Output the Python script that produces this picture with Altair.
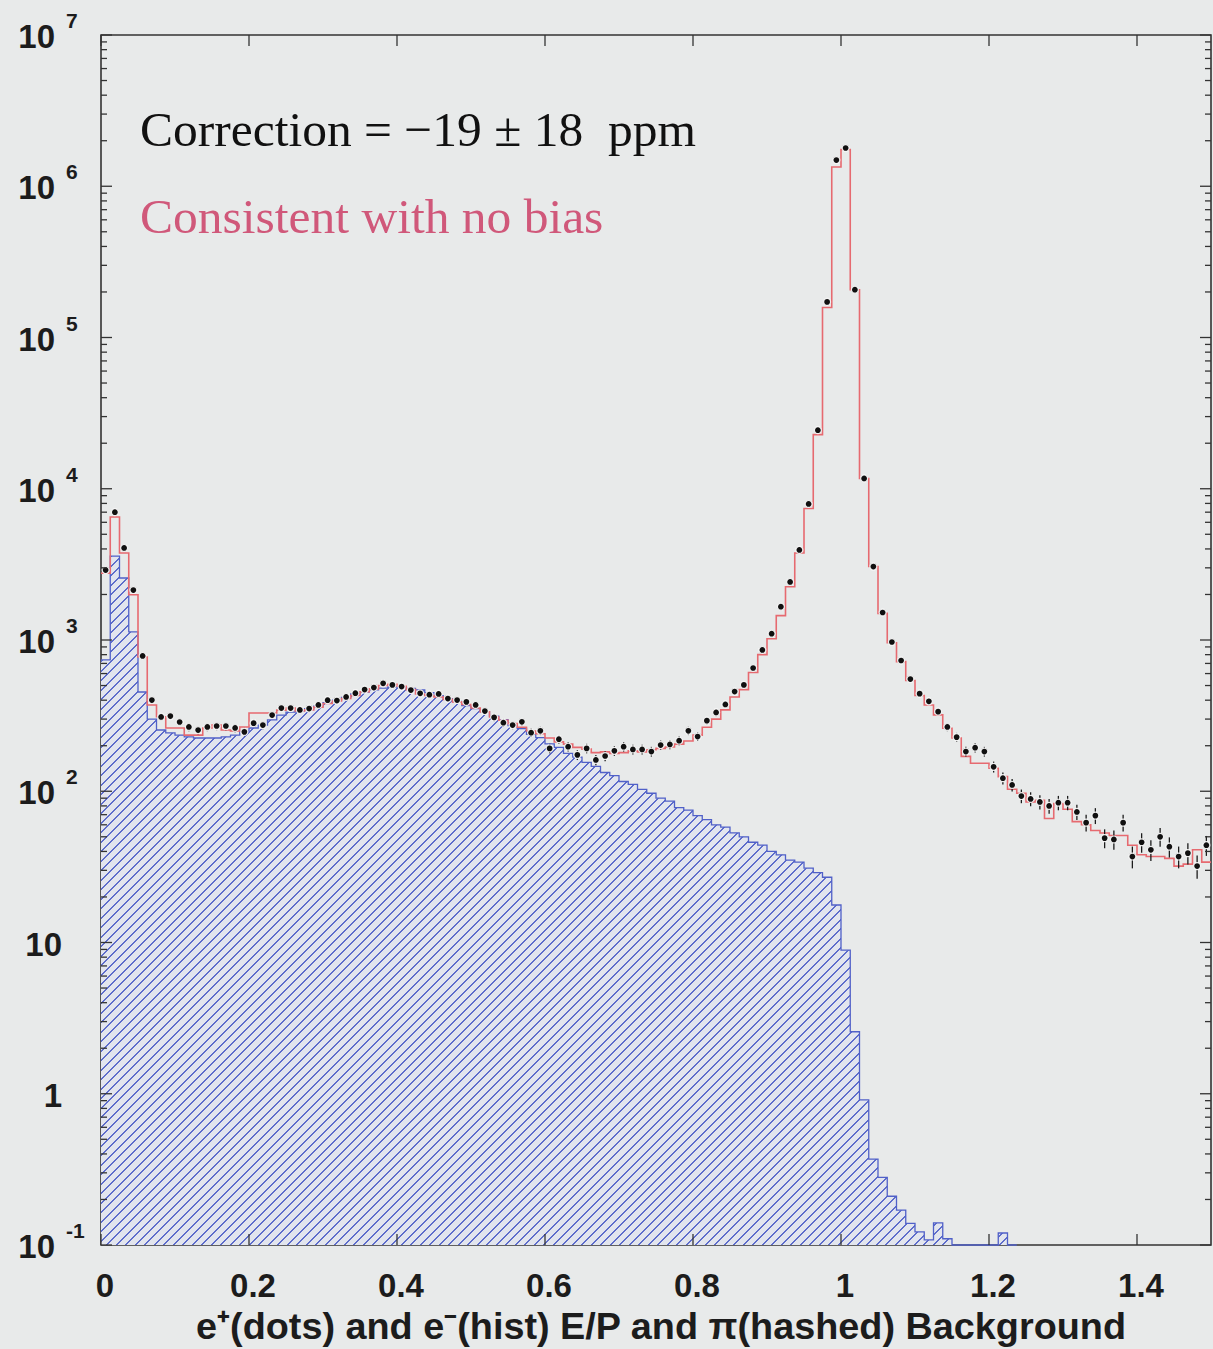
import math
import altair as alt
import pandas as pd

# ---------------- data ----------------
BIN_W = 0.0125  # E/P bin width, 120 bins from 0 to 1.5

# e- histogram (red step line), bins 0..119
e_minus = [2770, 6500, 3760, 1990, 772, 372, 311, 262, 262, 235,
           235, 262, 274, 254, 250, 266, 329, 329, 329, 344,
           355, 340, 345, 360, 380, 395, 410, 430, 455, 475,
           500, 510, 495, 470, 440, 430, 420, 405, 390, 375,
           355, 335, 310, 295, 280, 265, 250, 240, 225, 212,
           205, 195, 190, 180, 182, 178, 180, 185, 182, 188,
           192, 196, 205, 215, 235, 265, 300, 345, 420, 470,
           610, 800, 1020, 1450, 2250, 3760, 7400, 22800, 158000, 1340000,
           1750000, 207000, 11700, 3060, 1500, 960, 720, 540, 430, 372,
           320, 261, 225, 170, 153, 153, 142, 125, 103, 97,
           85, 87, 66, 83, 76, 63, 60, 55, 53, 51,
           51, 44, 38, 37, 37, 36, 32, 33, 41, 34]

# e+ (black dots), bins 0..119
e_plus = [2900, 7000, 4060, 2140, 784, 401, 310, 314, 287, 266,
          254, 266, 270, 270, 262, 247, 282, 274, 319, 355,
          355, 345, 352, 372, 400, 398, 420, 445, 470, 485,
          517, 505, 492, 467, 444, 435, 440, 410, 401, 390,
          372, 339, 308, 284, 274, 288, 244, 251, 192, 221,
          197, 174, 192, 161, 171, 185, 197, 189, 189, 183,
          202, 204, 216, 251, 230, 293, 332, 375, 456, 505,
          653, 859, 1100, 1660, 2420, 3940, 7930, 24400, 172000, 1490000,
          1790000, 207000, 11700, 3060, 1520, 970, 732, 552, 442, 393,
          336, 266, 228, 183, 194, 183, 145, 122, 110, 93,
          89, 85, 80, 84, 84, 73, 62, 69, 49, 48,
          62, 37, 46, 41, 50, 43, 37, 39, 32, 44]

# pion background (blue hashed), bins 0..98
pion = [738, 3590, 2570, 1130, 453, 300, 254, 243, 235, 229,
        225, 225, 225, 229, 235, 250, 262, 274, 296, 319,
        334, 340, 352, 365, 385, 400, 418, 440, 452, 468,
        480, 490, 488, 478, 468, 448, 428, 410, 392, 368,
        352, 336, 314, 298, 272, 260, 238, 226, 206, 195,
        178, 168, 155, 146, 133, 127, 116, 111, 103, 97,
        90, 86, 78, 75, 69, 65, 60, 58, 53, 50,
        46, 44, 40, 38, 35, 34, 31, 29, 27, 17.7,
        8.9, 2.57, 0.91, 0.37, 0.28, 0.21, 0.17, 0.139, 0.122, 0.108,
        0.14, 0.11, 0, 0, 0, 0, 0, 0.12, 0]

x_tick_values = [0, 0.2, 0.4, 0.6, 0.8, 1.0, 1.2, 1.4]
x_tick_labels = ["0", "0.2", "0.4", "0.6", "0.8", "1", "1.2", "1.4"]
y_major = [0.1, 1, 10, 100, 1e3, 1e4, 1e5, 1e6, 1e7]
y_minor = [m * 10.0 ** k for k in range(-1, 7) for m in range(2, 10)]
y_pow_values = [1e7, 1e6, 1e5, 1e4, 1e3, 1e2, 0.1]
y_pow_exps = ["7", "6", "5", "4", "3", "2", "-1"]
y_plain_values = [10, 1]
y_plain_labels = ["10", "1"]

title_text = "e\u207a(dots) and e\u207b(hist) E/P and \u03c0(hashed) Background"
note1 = "Correction = \u221219 \u00b1 18\u00a0 ppm"
note2 = "Consistent with no bias"

# ---------------- style ----------------
PLOT_W, PLOT_H = 1110, 1210
X_MAX = 1.5
Y_MIN, Y_MAX = 0.1, 1e7
BG = "#e8eaea"
INK = "#1c1c1c"
FRAME = "#333333"
RED = "#e66a70"
BLUE = "#5060c8"
HATCH_LINE = "#5e6dcb"
HATCH_GAP = "#e2e5ee"
SANS = "Liberation Sans"
SERIF = "Liberation Serif"

# hatch pattern as a striped linear gradient (45 degree lines)
area_w = len(pion) * BIN_W / X_MAX * PLOT_W
area_h = PLOT_H * (math.log10(max(pion)) - math.log10(Y_MIN)) / (math.log10(Y_MAX) - math.log10(Y_MIN))
r = area_w / area_h
gb = (1 + r) / (1 + r * r)
ga = r * gb
HATCH_SPACING = 9.5
LINE_FRAC = 0.25
period = HATCH_SPACING * ga / (area_w * (ga * ga + gb * gb))
stops = []
k = 0
while k * period < 1:
    t0 = k * period
    t1 = min(1.0, t0 + LINE_FRAC * period)
    t2 = min(1.0, t0 + period)
    stops += [alt.GradientStop(offset=t0, color=HATCH_LINE),
              alt.GradientStop(offset=t1, color=HATCH_LINE),
              alt.GradientStop(offset=t1, color=HATCH_GAP),
              alt.GradientStop(offset=t2, color=HATCH_GAP)]
    k += 1
hatch_fill = alt.LinearGradient(gradient="linear", stops=stops, x1=0, y1=0, x2=ga, y2=gb)

# ---------------- tables ----------------
red_df = pd.DataFrame({"x": [i * BIN_W for i in range(len(e_minus) + 1)],
                       "v": e_minus + [e_minus[-1]]})
pi_df = pd.DataFrame({"x": [i * BIN_W for i in range(len(pion) + 1)],
                      "v": pion + [pion[-1]]})
dot_df = pd.DataFrame({"x": [(i + 0.5) * BIN_W for i in range(len(e_plus))],
                       "v": e_plus})
ymaj_df = pd.DataFrame({"v": y_major})
ymin_df = pd.DataFrame({"v": y_minor})
xt_df = pd.DataFrame({"v": x_tick_values, "t": x_tick_labels})
ypow_df = pd.DataFrame({"v": y_pow_values, "b": ["10"] * len(y_pow_values), "e": y_pow_exps})
yplain_df = pd.DataFrame({"v": y_plain_values, "t": y_plain_labels})
one = alt.Data(values=[{"a": 1}])

xs = alt.Scale(domain=[0, X_MAX], nice=False, zero=False)
ys = alt.Scale(type="log", domain=[Y_MIN, Y_MAX], nice=False)


def X(f):
    return alt.X(f, type="quantitative", scale=xs, axis=None)


def Y(f):
    return alt.Y(f, type="quantitative", scale=ys, axis=None)


hatch = alt.Chart(pi_df).transform_calculate(vp="max(datum.v, 0.1)").mark_area(
    interpolate="step-after", fill=hatch_fill, strokeWidth=0
).encode(x=X("x"), y=Y("vp"), y2=alt.datum(Y_MIN))

pi_line = alt.Chart(pi_df).transform_calculate(vp="max(datum.v, 0.1)").mark_line(
    interpolate="step-after", color=BLUE, strokeWidth=1.3
).encode(x=X("x"), y=Y("vp"))

red_line = alt.Chart(red_df).mark_line(
    interpolate="step-after", color=RED, strokeWidth=1.6
).encode(x=X("x"), y=Y("v"))

err = alt.Chart(dot_df).transform_calculate(
    lo="datum.v - sqrt(datum.v)", hi="datum.v + sqrt(datum.v)"
).mark_rule(color=INK, strokeWidth=1.3).encode(x=X("x"), y=Y("lo"), y2=alt.Y2("hi:Q"))

dots = alt.Chart(dot_df).mark_point(
    shape="circle", filled=True, fill="#101010", stroke="#ffffff", strokeWidth=1.2,
    strokeOpacity=0.9, size=48, opacity=1
).encode(x=X("x"), y=Y("v"))

tick_style = dict(color=FRAME, strokeWidth=1.3)
ytl = alt.Chart(ymaj_df).mark_rule(**tick_style).encode(y=Y("v"), x=alt.value(0), x2=alt.value(11))
ytr = alt.Chart(ymaj_df).mark_rule(**tick_style).encode(y=Y("v"), x=alt.value(PLOT_W - 11), x2=alt.value(PLOT_W))
ymtl = alt.Chart(ymin_df).mark_rule(**tick_style).encode(y=Y("v"), x=alt.value(0), x2=alt.value(6))
ymtr = alt.Chart(ymin_df).mark_rule(**tick_style).encode(y=Y("v"), x=alt.value(PLOT_W - 6), x2=alt.value(PLOT_W))
xtb = alt.Chart(xt_df).mark_rule(**tick_style).encode(x=X("v"), y=alt.value(PLOT_H - 11), y2=alt.value(PLOT_H))
xtt = alt.Chart(xt_df).mark_rule(**tick_style).encode(x=X("v"), y=alt.value(0), y2=alt.value(11))

xlab = alt.Chart(xt_df).mark_text(
    font=SANS, fontSize=33, fontWeight="bold", color=INK, baseline="middle", align="center", dx=4
).encode(x=X("v"), y=alt.value(PLOT_H + 42), text="t:N")

ybase = alt.Chart(ypow_df).mark_text(
    font=SANS, fontSize=33, fontWeight="bold", color=INK, baseline="middle", align="right", dy=3
).encode(y=Y("v"), x=alt.value(-46), text="b:N")
yexp = alt.Chart(ypow_df).mark_text(
    font=SANS, fontSize=21, fontWeight="bold", color=INK, baseline="middle", align="left", dy=-13
).encode(y=Y("v"), x=alt.value(-35), text="e:N")
yplain = alt.Chart(yplain_df).mark_text(
    font=SANS, fontSize=33, fontWeight="bold", color=INK, baseline="middle", align="right", dy=3
).encode(y=Y("v"), x=alt.value(-39), text="t:N")

title = alt.Chart(one).mark_text(
    font=SANS, fontSize=37.8, fontWeight="bold", color=INK, baseline="middle", align="center", text=title_text
).encode(x=alt.value(560), y=alt.value(PLOT_H + 83))

n1 = alt.Chart(one).mark_text(
    font=SERIF, fontSize=49.5, color="#111111", baseline="alphabetic", align="left", text=note1
).encode(x=alt.value(39), y=alt.value(111))
n2 = alt.Chart(one).mark_text(
    font=SERIF, fontSize=49.5, color="#d0587a", baseline="alphabetic", align="left", text=note2
).encode(x=alt.value(39), y=alt.value(198))

chart = alt.layer(
    hatch, pi_line, red_line, err, dots,
    ytl, ytr, ymtl, ymtr, xtb, xtt,
    xlab, ybase, yexp, yplain, title, n1, n2
).properties(
    width=PLOT_W, height=PLOT_H,
    autosize=alt.AutoSizeParams(type="none"),
    padding={"left": 101, "top": 35, "right": 2, "bottom": 104},
    background=BG,
).configure_view(stroke=FRAME, strokeWidth=1.6, fill=BG)

chart.save("out.html", embed_options={"renderer": "svg", "actions": False})
